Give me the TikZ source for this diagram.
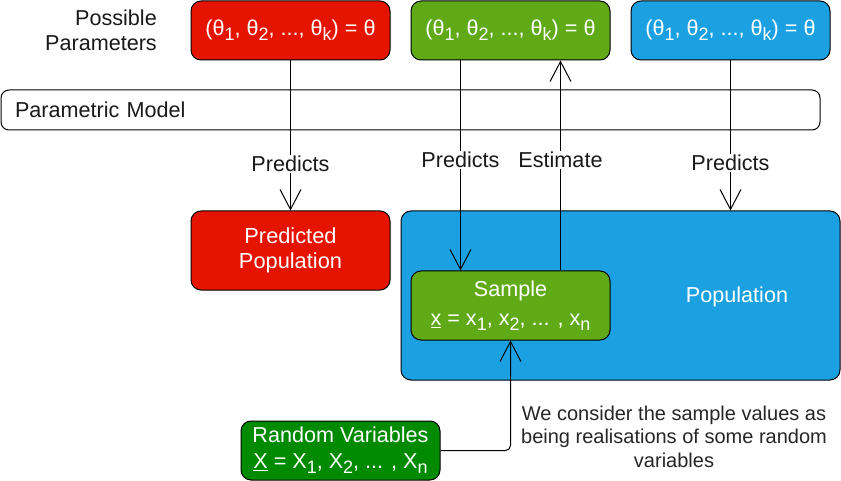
\documentclass[tikz,border=0pt]{standalone}
\usepackage{fontspec}
\setmainfont{Liberation Sans}
\usetikzlibrary{arrows.meta,calc}
\definecolor{cred}{HTML}{E51400}
\definecolor{cgreen}{HTML}{60A917}
\definecolor{cblue}{HTML}{1BA1E2}
\definecolor{cdkgreen}{HTML}{008A00}
\newcommand{\mysub}[1]{\raisebox{-5pt}{\fontsize{18}{18}\selectfont #1}}
\newcommand{\bigfont}{\fontsize{21.6}{25.6}\selectfont}
\begin{document}
\begin{tikzpicture}[x=1pt,y=-1pt,
  boxnode/.style={draw=black, line width=1pt, rounded corners=10pt, inner sep=0pt,
    align=center, text=white, font=\bigfont},
  plain/.style={font=\bigfont, text=black!90, inner sep=1pt},
  lbl/.style={font=\bigfont, text=black!90, fill=white, inner sep=1pt},
  conn/.style={line width=1pt, draw=black},
  arr/.style={-{Straight Barb[length=20pt,width=21pt,line width=1pt]}}]
\useasboundingbox (0,0) rectangle (841,481);

% boxes
\node[boxnode, fill=cred, minimum width=199pt, minimum height=59pt] (redtop) at (290.5,30.5)
  {(θ\mysub{1}, θ\mysub{2}, ..., θ\mysub{k}) = θ};
\node[boxnode, fill=cgreen, minimum width=199pt, minimum height=59pt] (greentop) at (510.5,30.5)
  {(θ\mysub{1}, θ\mysub{2}, ..., θ\mysub{k}) = θ};
\node[boxnode, fill=cblue, minimum width=199pt, minimum height=59pt] (bluetop) at (730.5,30.5)
  {(θ\mysub{1}, θ\mysub{2}, ..., θ\mysub{k}) = θ};
\node[plain, align=right, anchor=east, font=\fontsize{21.6}{25}\selectfont] (possible) at (158,30.5) {Possible\\Parameters};

\node[draw=black, line width=1pt, rounded corners=8pt, minimum width=819pt, minimum height=40pt,
  inner xsep=14pt, inner ysep=0pt, text width=791pt, align=left, font=\bigfont, text=black!90]
  (param) at (410.5,110) {Parametric Model};

\node[boxnode, fill=cred, minimum width=199pt, minimum height=79pt,
  font=\fontsize{21.8}{26}\selectfont] (predpop) at (290.5,250.5)
  {\raisebox{-1pt}{Predicted}\\Population};
\node[boxnode, fill=cblue, minimum width=439pt, minimum height=169pt] (pop) at (620.5,295.5) {};
\node[font=\bigfont, text=white, inner sep=0pt] (poplbl) at (737,296.5) {Population};
\node[boxnode, fill=cgreen, minimum width=199pt, minimum height=69pt,
  font=\fontsize{21.6}{28}\selectfont] (sample) at (510.5,305.5)
  {\raisebox{1pt}{Sample}\\\underline{x} = x\mysub{1}, x\mysub{2}, ... , x\mysub{n}};
\node[boxnode, fill=cdkgreen, minimum width=199pt, minimum height=59pt,
  font=\fontsize{21.6}{26}\selectfont] (rv) at (340.5,450.5)
  {Random Variables\\\underline{X} = X\mysub{1}, X\mysub{2}, ... , X\mysub{n}};

\node[align=center, font=\fontsize{20}{23.5}\selectfont, text=black!85, inner sep=0pt] (note) at (674,436.5)
  {We consider the sample values as\\being realisations of some random\\variables};

% connectors
\draw[conn, arr] (redtop.south) -- (predpop.north)
  node[lbl, pos=0.689] (lp1) {Predicts};
\draw[conn, arr] ([xshift=-50pt]greentop.south) -- ([xshift=-50pt]sample.north)
  node[lbl, pos=0.474] (lp2) {Predicts};
\draw[conn, arr] ([xshift=50pt]sample.north) -- ([xshift=50pt]greentop.south)
  node[lbl, pos=0.526] (le) {Estimate};
\draw[conn, arr] (bluetop.south) -- (bluetop.south |- pop.north)
  node[lbl, pos=0.682] (lp3) {Predicts};
\draw[conn, arr, rounded corners=5pt] (rv.east) -| (sample.south);
\end{tikzpicture}
\end{document}
